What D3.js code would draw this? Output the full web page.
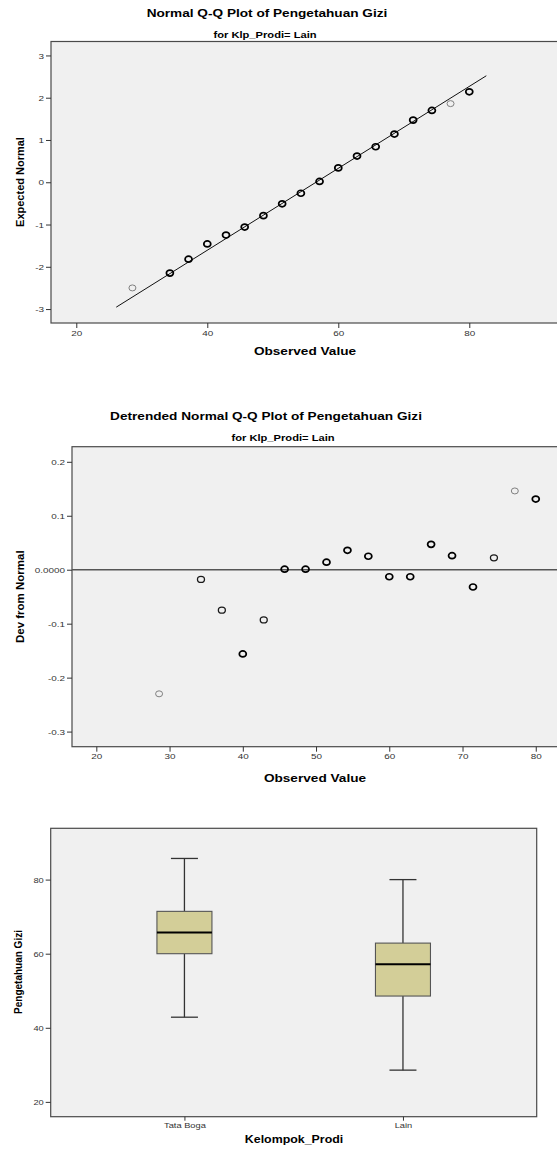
<!DOCTYPE html>
<html><head><meta charset="utf-8">
<script src="https://cdnjs.cloudflare.com/ajax/libs/d3/7.8.5/d3.min.js"></script>
<style>
body{margin:0;background:#fff}
svg{display:block}
text{font-family:"Liberation Sans",Arial,sans-serif}
</style>
</head><body>
<script>
// ---------- data ----------
const observed       = [28.57,34.29,37.14,40.00,42.86,45.71,48.57,51.43,54.29,57.14,60.00,62.86,65.71,68.57,71.43,74.29,77.14,80.00];
const expectedNormal = [-2.50,-2.15,-1.82,-1.46,-1.25,-1.06,-0.79,-0.51,-0.26,0.02,0.34,0.62,0.84,1.14,1.47,1.70,1.86,2.14];
const devFromNormal  = [-0.230,-0.018,-0.075,-0.156,-0.093,0.001,0.001,0.014,0.036,0.025,-0.013,-0.013,0.047,0.026,-0.032,0.022,0.146,0.131];
const caseCounts     = [1,2,2,3,2,3,3,3,3,3,3,3,3,3,3,2,1,3];
const qqLineMean = 56.6, qqLineSD = 10.32;
const qqLineRange = [26.1, 82.6];
const qqXTicks = [20,40,60,80];
const qqYTicks = [-3,-2,-1,0,1,2,3];
const detXTicks = [20,30,40,50,60,70,80];
const detYTicks = [-0.3,-0.2,-0.1,0,0.1,0.2];
const groups      = ["Tata Boga","Lain"];
const whiskerLow  = [42.86,28.57];
const q1          = [60.00,48.57];
const median      = [65.71,57.14];
const q3          = [71.43,62.86];
const whiskerHigh = [85.71,80.00];
const boxYTicks = [20,40,60,80];

// ---------- setup ----------
const W = 557, H = 1151, SX = 1.24;
const svg = d3.select("body").append("svg").attr("width",W).attr("height",H);
svg.append("rect").attr("width",W).attr("height",H).attr("fill","#fff");

function label(x,y,str,size,weight,anchor,color){
  return svg.append("text")
    .attr("transform",`translate(${x},${y}) scale(${SX},1)`)
    .attr("text-anchor",anchor||"middle")
    .attr("font-size",size).attr("font-weight",weight||"normal")
    .attr("fill",color||"#000").text(str);
}
function vlabel(x,y,str,size){
  return svg.append("text")
    .attr("transform",`translate(${x},${y}) rotate(-90)`)
    .attr("text-anchor","middle").attr("font-size",size)
    .attr("font-weight","bold").attr("fill","#000").text(str);
}
function frame(x0,y0,x1,y1){
  svg.append("rect").attr("x",x0).attr("y",y0).attr("width",x1-x0).attr("height",y1-y0)
    .attr("fill","#f0f0f0").attr("stroke","#4a4a4a").attr("stroke-width",1.2);
}
function styleAxis(g, isY, fs){
  g.select(".domain").remove();
  g.selectAll(".tick line").attr("stroke","#333").attr("stroke-width",1);
  g.selectAll(".tick text").attr("font-size",fs).attr("fill","#333")
    .attr("font-family","Liberation Sans, Arial, sans-serif");
  if(isY){
    g.selectAll(".tick text").each(function(){
      const t=d3.select(this); const x=+t.attr("x");
      t.attr("x", x/SX).attr("transform",`scale(${SX},1)`);
    });
  } else {
    g.selectAll(".tick text").attr("transform",`scale(${SX},1)`);
  }
}
const intFmt = d => String(d);
function strokeFor(c){ return c<=1 ? "#808080" : (c===2 ? "#1a1a1a" : "#000"); }
function widthFor(c){ return c<=1 ? 1 : (c===2 ? 1.3 : 1.7); }

// ---------- Panel 1: Normal Q-Q ----------
const x1 = d3.scaleLinear().domain([16.14,93.39]).range([51,557]);
const y1 = d3.scaleLinear().domain([-3.33,3.33]).range([323,41.5]);
label(267,17,"Normal Q-Q Plot of Pengetahuan Gizi",11,"bold");
label(265,37.5,"for Klp_Prodi= Lain",9,"bold");
frame(51,41.5,560,323);
const gy1 = svg.append("g").attr("transform","translate(51,0)")
  .call(d3.axisLeft(y1).tickValues(qqYTicks).tickSize(5).tickPadding(2).tickFormat(intFmt));
styleAxis(gy1,true,8);
const gx1 = svg.append("g").attr("transform","translate(0,323)")
  .call(d3.axisBottom(x1).tickValues(qqXTicks).tickSize(5).tickPadding(2).tickFormat(intFmt));
styleAxis(gx1,false,8);
svg.append("path")
  .datum(qqLineRange)
  .attr("d", d3.line().x(d=>x1(d)).y(d=>y1((d-qqLineMean)/qqLineSD)))
  .attr("stroke","#111").attr("stroke-width",1).attr("fill","none");
svg.append("g").selectAll("ellipse").data(observed).join("ellipse")
  .attr("cx",(d)=>x1(d)).attr("cy",(d,i)=>y1(expectedNormal[i]))
  .attr("rx",3.5).attr("ry",3).attr("fill","none")
  .attr("stroke",(d,i)=>caseCounts[i]<=1?"#808080":"#000")
  .attr("stroke-width",(d,i)=>caseCounts[i]<=1?1:1.7);
label(305,355,"Observed Value",11,"bold");
vlabel(24,182,"Expected Normal",11);

// ---------- Panel 2: Detrended ----------
const x2 = d3.scaleLinear().domain([16.68,82.9]).range([72,557]);
const y2 = d3.scaleLinear().domain([-0.328,0.228]).range([746.7,446.7]);
label(266,419.5,"Detrended Normal Q-Q Plot of Pengetahuan Gizi",11,"bold");
label(283,440.5,"for Klp_Prodi= Lain",9,"bold");
frame(72,446.7,560,746.7);
const gy2 = svg.append("g").attr("transform","translate(72,0)")
  .call(d3.axisLeft(y2).tickValues(detYTicks).tickSize(5).tickPadding(2)
    .tickFormat(d=>Math.abs(d)<1e-9?"0.0000":d.toFixed(1)));
styleAxis(gy2,true,8);
const gx2 = svg.append("g").attr("transform","translate(0,746.7)")
  .call(d3.axisBottom(x2).tickValues(detXTicks).tickSize(5).tickPadding(2).tickFormat(intFmt));
styleAxis(gx2,false,8);
svg.append("line").attr("x1",72).attr("x2",557).attr("y1",y2(0)).attr("y2",y2(0))
  .attr("stroke","#555").attr("stroke-width",1.5);
svg.append("g").selectAll("ellipse").data(observed).join("ellipse")
  .attr("cx",(d)=>x2(d)).attr("cy",(d,i)=>y2(devFromNormal[i]))
  .attr("rx",3.5).attr("ry",3).attr("fill","none")
  .attr("stroke",(d,i)=>strokeFor(caseCounts[i]))
  .attr("stroke-width",(d,i)=>widthFor(caseCounts[i]));
label(315,781.5,"Observed Value",11,"bold");
vlabel(24,596.7,"Dev from Normal",11.5);

// ---------- Panel 3: Boxplot ----------
const x3 = d3.scalePoint().domain(groups).range([50.7,536.7]).padding(0.612);
const y3 = d3.scaleLinear().domain([16.0,93.85]).range([1116.7,828.3]);
frame(50.7,828.3,536.7,1116.7);
const gy3 = svg.append("g").attr("transform","translate(50.7,0)")
  .call(d3.axisLeft(y3).tickValues(boxYTicks).tickSize(5).tickPadding(2).tickFormat(intFmt));
styleAxis(gy3,true,7.5);
const gx3 = svg.append("g").attr("transform","translate(0,1116.7)")
  .call(d3.axisBottom(x3).tickSize(4).tickPadding(2));
styleAxis(gx3,false,7.5);
const boxW = 55, capW = 27;
const bg = svg.append("g").selectAll("g").data(groups).join("g");
bg.append("line").attr("x1",d=>x3(d)).attr("x2",d=>x3(d))
  .attr("y1",(d,i)=>y3(whiskerHigh[i])).attr("y2",(d,i)=>y3(q3[i]))
  .attr("stroke","#333").attr("stroke-width",1.3);
bg.append("line").attr("x1",d=>x3(d)).attr("x2",d=>x3(d))
  .attr("y1",(d,i)=>y3(q1[i])).attr("y2",(d,i)=>y3(whiskerLow[i]))
  .attr("stroke","#333").attr("stroke-width",1.3);
bg.append("line").attr("x1",d=>x3(d)-capW/2).attr("x2",d=>x3(d)+capW/2)
  .attr("y1",(d,i)=>y3(whiskerHigh[i])).attr("y2",(d,i)=>y3(whiskerHigh[i]))
  .attr("stroke","#333").attr("stroke-width",1.3);
bg.append("line").attr("x1",d=>x3(d)-capW/2).attr("x2",d=>x3(d)+capW/2)
  .attr("y1",(d,i)=>y3(whiskerLow[i])).attr("y2",(d,i)=>y3(whiskerLow[i]))
  .attr("stroke","#333").attr("stroke-width",1.3);
bg.append("rect").attr("x",d=>x3(d)-boxW/2).attr("width",boxW)
  .attr("y",(d,i)=>y3(q3[i])).attr("height",(d,i)=>y3(q1[i])-y3(q3[i]))
  .attr("fill","#d3ce98").attr("stroke","#555").attr("stroke-width",1.1);
bg.append("line").attr("x1",d=>x3(d)-boxW/2).attr("x2",d=>x3(d)+boxW/2)
  .attr("y1",(d,i)=>y3(median[i])).attr("y2",(d,i)=>y3(median[i]))
  .attr("stroke","#000").attr("stroke-width",2);
label(294,1143,"Kelompok_Prodi",10,"bold");
vlabel(22,972,"Pengetahuan Gizi",10);
</script>
</body></html>
